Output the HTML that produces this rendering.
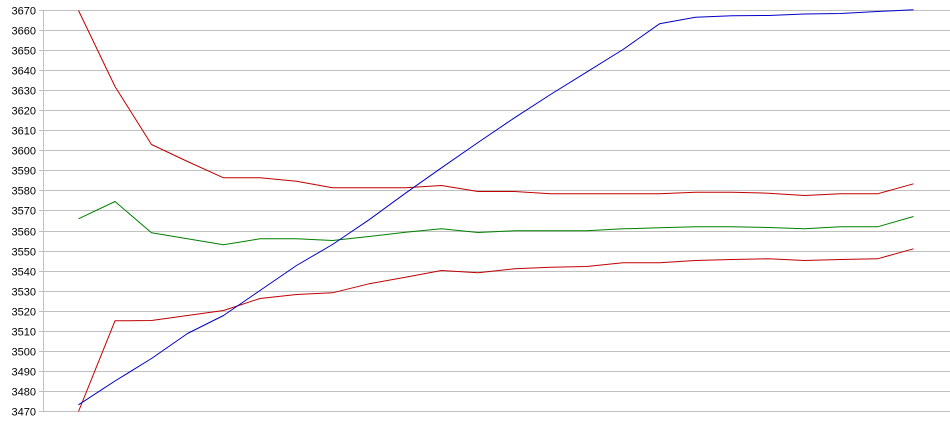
<!DOCTYPE html>
<html>
<head>
<meta charset="utf-8">
<style>
html,body{margin:0;padding:0;background:#fff;}
svg{display:block;}
text{font-family:"Liberation Sans",Arial,sans-serif;font-size:11px;fill:#000;}
</style>
</head>
<body>
<svg width="950" height="435" viewBox="0 0 950 435" xmlns="http://www.w3.org/2000/svg">
<g stroke="#c0c0c0" stroke-width="1" shape-rendering="crispEdges">
<line x1="39" y1="10.5" x2="950" y2="10.5"/>
<line x1="39" y1="30.5" x2="950" y2="30.5"/>
<line x1="39" y1="50.5" x2="950" y2="50.5"/>
<line x1="39" y1="70.5" x2="950" y2="70.5"/>
<line x1="39" y1="90.5" x2="950" y2="90.5"/>
<line x1="39" y1="110.5" x2="950" y2="110.5"/>
<line x1="39" y1="130.5" x2="950" y2="130.5"/>
<line x1="39" y1="150.5" x2="950" y2="150.5"/>
<line x1="39" y1="170.5" x2="950" y2="170.5"/>
<line x1="39" y1="190.5" x2="950" y2="190.5"/>
<line x1="39" y1="210.5" x2="950" y2="210.5"/>
<line x1="39" y1="231.5" x2="950" y2="231.5"/>
<line x1="39" y1="251.5" x2="950" y2="251.5"/>
<line x1="39" y1="271.5" x2="950" y2="271.5"/>
<line x1="39" y1="291.5" x2="950" y2="291.5"/>
<line x1="39" y1="311.5" x2="950" y2="311.5"/>
<line x1="39" y1="331.5" x2="950" y2="331.5"/>
<line x1="39" y1="351.5" x2="950" y2="351.5"/>
<line x1="39" y1="371.5" x2="950" y2="371.5"/>
<line x1="39" y1="391.5" x2="950" y2="391.5"/>
<line x1="39" y1="411.5" x2="950" y2="411.5"/>
<line x1="43.5" y1="10" x2="43.5" y2="412"/>
</g>
<g text-anchor="end">
<text x="36" y="14.5">3670</text>
<text x="36" y="34.5">3660</text>
<text x="36" y="54.5">3650</text>
<text x="36" y="74.5">3640</text>
<text x="36" y="94.5">3630</text>
<text x="36" y="114.5">3620</text>
<text x="36" y="134.5">3610</text>
<text x="36" y="154.5">3600</text>
<text x="36" y="174.5">3590</text>
<text x="36" y="194.5">3580</text>
<text x="36" y="214.5">3570</text>
<text x="36" y="235.5">3560</text>
<text x="36" y="255.5">3550</text>
<text x="36" y="275.5">3540</text>
<text x="36" y="295.5">3530</text>
<text x="36" y="315.5">3520</text>
<text x="36" y="335.5">3510</text>
<text x="36" y="355.5">3500</text>
<text x="36" y="375.5">3490</text>
<text x="36" y="395.5">3480</text>
<text x="36" y="415.5">3470</text>
</g>
<g fill="none" stroke-width="1" transform="translate(0.5,0.5)" stroke-linejoin="round">
<polyline stroke="#c00000" points="78,10 114.5,86 151,144 187,161 223,177.3 259.5,177.3 296,180.7 332,187.3 368.5,187.3 405,187.3 441,185 477.5,191 514,191 550,193.3 586,193.3 622.5,193.3 659,193.3 695,191.7 731.5,191.7 768,192.7 804,195 840,193.3 877,193.3 913,183.3"/>
<polyline stroke="#008000" points="78,218.3 114.5,201 151,232.3 187,238.3 223,244.3 259.5,238.3 296,238.3 332,240 368.5,236 405,231.7 441,228.3 477.5,232 514,230.3 550,230.3 586,230.3 622.5,228.3 659,227.3 695,226.3 731.5,226.3 768,227 804,228.3 840,226.3 877,226.3 913,216"/>
<polyline stroke="#c00000" points="78,411 114.5,320.3 151,320 187,315 223,310 259.5,298 296,294 332,292.3 368.5,283.3 405,276.7 441,270 477.5,272.3 514,268.3 550,266.7 586,266 622.5,262.3 659,262.3 695,260 731.5,259 768,258.3 804,260 840,259 877,258.3 913,248.3"/>
<polyline stroke="#0000c8" points="78,404.3 114.5,380.5 151,358 187,333 223,315 259.5,290 296,265 332,244 368.5,219.3 405,192.7 441,167.3 477.5,142 514,117.3 550,94 586,71.7 622.5,49 659,23.3 695,16.7 731.5,15.3 768,15 804,13.5 840,13 877,11 913,9.3"/>
</g>
</svg>
</body>
</html>
